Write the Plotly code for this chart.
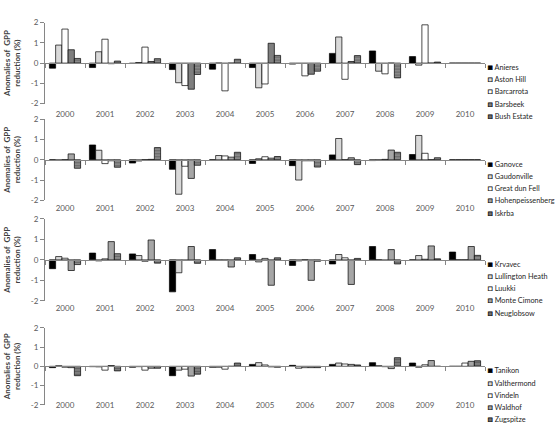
import plotly.graph_objects as go

# Categories
years = ["2000", "2001", "2002", "2003", "2004", "2005",
         "2006", "2007", "2008", "2009", "2010"]

# Panel 1 sites
p1_names = ["Anieres", "Aston Hill", "Barcarrota", "Barsbeek", "Bush Estate"]
anieres = [-0.25, -0.22, -0.02, -0.32, -0.30, -0.22, -0.05, 0.48, 0.60, 0.32, 0.0]
aston_hill = [0.89, 0.56, 0.03, -0.97, 0.0, -1.22, -0.02, 1.29, -0.40, -0.10, 0.0]
barcarrota = [1.68, 1.18, 0.79, -1.11, -1.37, -1.03, -0.63, -0.80, -0.53, 1.89, 0.0]
barsbeek = [0.66, -0.03, 0.08, -1.29, 0.0, 0.98, -0.55, 0.08, 0.0, 0.0, 0.0]
bush_estate = [0.23, 0.10, 0.22, -0.56, 0.19, 0.38, -0.40, 0.37, -0.73, 0.05, 0.0]

# Panel 2 sites
p2_names = ["Ganovce", "Gaudonville", "Great dun Fell", "Hohenpeissenberg", "Iskrba"]
ganovce = [0.0, 0.73, -0.16, -0.47, 0.0, -0.18, -0.29, 0.24, -0.04, 0.26, 0.0]
gaudonville = [-0.03, 0.47, -0.06, -1.70, 0.21, 0.05, -1.00, 1.05, -0.02, 1.20, 0.0]
great_dun_fell = [0.0, -0.19, 0.0, -0.32, 0.19, 0.15, -0.05, 0.0, 0.02, 0.32, 0.0]
hohenpeissenberg = [0.29, -0.05, 0.02, -0.92, 0.13, 0.08, -0.05, 0.10, 0.48, 0.0, 0.0]
iskrba = [-0.42, -0.37, 0.60, -0.27, 0.37, 0.16, -0.36, -0.24, 0.37, 0.10, 0.0]

# Panel 3 sites
p3_names = ["Krvavec", "Lullington Heath", "Luukki", "Monte Cimone", "Neuglobsow"]
krvavec = [-0.43, 0.33, 0.29, -1.56, 0.50, 0.26, -0.27, -0.20, 0.65, 0.0, 0.38]
lullington_heath = [0.16, -0.05, 0.21, -0.63, -0.02, -0.10, -0.05, 0.26, 0.0, 0.21, 0.0]
luukki = [0.08, 0.05, -0.07, -0.03, -0.02, 0.07, 0.0, 0.10, -0.03, 0.03, 0.0]
monte_cimone = [-0.52, 0.89, 0.97, 0.65, -0.35, -1.24, -1.00, -1.20, 0.50, 0.68, 0.65]
neuglobsow = [-0.23, 0.30, -0.16, -0.17, 0.10, 0.10, -0.07, 0.07, -0.20, 0.05, 0.22]

# Panel 4 sites
p4_names = ["Tanikon", "Valthermond", "Vindeln", "Waldhof", "Zugspitze"]
tanikon = [-0.07, -0.02, -0.05, -0.49, -0.05, 0.10, 0.05, 0.10, 0.19, 0.17, 0.0]
valthermond = [0.03, -0.03, -0.02, -0.20, -0.05, 0.19, -0.10, 0.17, 0.03, -0.05, 0.0]
vindeln = [-0.05, -0.20, -0.20, -0.15, -0.15, 0.07, -0.07, 0.12, -0.02, 0.08, 0.17]
waldhof = [-0.07, 0.04, -0.10, -0.51, 0.0, -0.03, -0.07, 0.10, -0.12, 0.30, 0.26]
zugspitze = [-0.49, -0.24, -0.10, -0.41, 0.17, -0.05, -0.07, 0.07, 0.45, 0.0, 0.29]

y_ticks = [-2, -1, 0, 1, 2]
y_tick_text = ["-2", "-1", "0", "1", "2"]
y_title = "<b>Anomalies of  GPP</b><br><b>reduction (%)</b>"

panels = [
    (p1_names, [anieres, aston_hill, barcarrota, barsbeek, bush_estate]),
    (p2_names, [ganovce, gaudonville, great_dun_fell, hohenpeissenberg, iskrba]),
    (p3_names, [krvavec, lullington_heath, luukki, monte_cimone, neuglobsow]),
    (p4_names, [tanikon, valthermond, vindeln, waldhof, zugspitze]),
]

# Styling
axis_grey = "#868686"
tick_font = dict(family="Lato, Liberation Sans, sans-serif", size=8, color="#595959")
legend_font = dict(family="Lato, Liberation Sans, sans-serif", size=7.3, color="#262626")
fourth_fill = ["#7f7f7f", "#a6a6a6", "#a6a6a6", "#a6a6a6"]
stripe_bg = ["#8c8c8c", "#8c8c8c", "#8c8c8c", "#808080"]
domains = [(0.7624, 0.9576), (0.5294, 0.7247), (0.2871, 0.4847), (0.0369, 0.2219)]
label_standoff = [43, 41, 41, 31]
legend_step = 12.2

fig = go.Figure()
layout = {}

for p, (names, series) in enumerate(panels):
    ax = "" if p == 0 else str(p + 1)
    fills = ["#000000", "#d9d9d9", "#ffffff", fourth_fill[p], stripe_bg[p]]
    for k, (name, vals) in enumerate(zip(names, series)):
        marker = dict(color=fills[k], line=dict(color="#000000", width=0.7))
        if k == 4:
            marker["pattern"] = dict(shape="-", fgcolor="#3f3f3f",
                                     bgcolor=stripe_bg[p], size=3, solidity=0.4)
        fig.add_trace(go.Bar(x=years, y=vals, name=name, marker=marker,
                             xaxis="x" + ax, yaxis="y" + ax, showlegend=False))

        # legend entry drawn as text with a coloured square glyph
        swatch_fill = "#6f6f6f" if k == 4 else fills[k]
        swatch = (f"<span style='color:{swatch_fill};stroke:#000000;"
                  f"stroke-width:0.7px;font-size:8px'>■</span>")
        fig.add_annotation(text=f"{swatch} {name}", xref="paper", x=1, xshift=1,
                           xanchor="left", yref="y" + ax, y=0, yanchor="middle",
                           yshift=-(4 + legend_step * k), showarrow=False,
                           align="left", font=legend_font)

    d0, d1 = domains[p]
    layout["xaxis" + ax] = dict(
        domain=[0, 1], anchor="free", position=(d0 + d1) / 2, type="category",
        categoryorder="array", categoryarray=years,
        showline=True, linecolor=axis_grey, linewidth=1,
        ticks="outside", tickson="boundaries", ticklen=4, tickcolor=axis_grey,
        ticklabelstandoff=label_standoff[p], tickfont=tick_font,
        showgrid=False, zeroline=False, fixedrange=True)
    layout["yaxis" + ax] = dict(
        domain=[d0, d1], anchor="x" + ax, range=[-2, 2],
        tickvals=y_ticks, ticktext=y_tick_text, tickfont=tick_font,
        showline=True, linecolor=axis_grey, linewidth=1,
        ticks="outside", ticklen=4, tickcolor=axis_grey,
        showgrid=False, zeroline=False, fixedrange=True,
        title=dict(text=y_title, standoff=8,
                   font=dict(family="Lato, Liberation Sans, sans-serif",
                             size=8, color="#404040")))

fig.update_layout(
    width=557, height=425,
    margin=dict(l=45, r=72, t=0, b=0),
    barmode="group", bargap=0.22, bargroupgap=0,
    paper_bgcolor="#ffffff", plot_bgcolor="#ffffff",
    showlegend=False,
    **layout,
)

fig.write_html("out.html")
